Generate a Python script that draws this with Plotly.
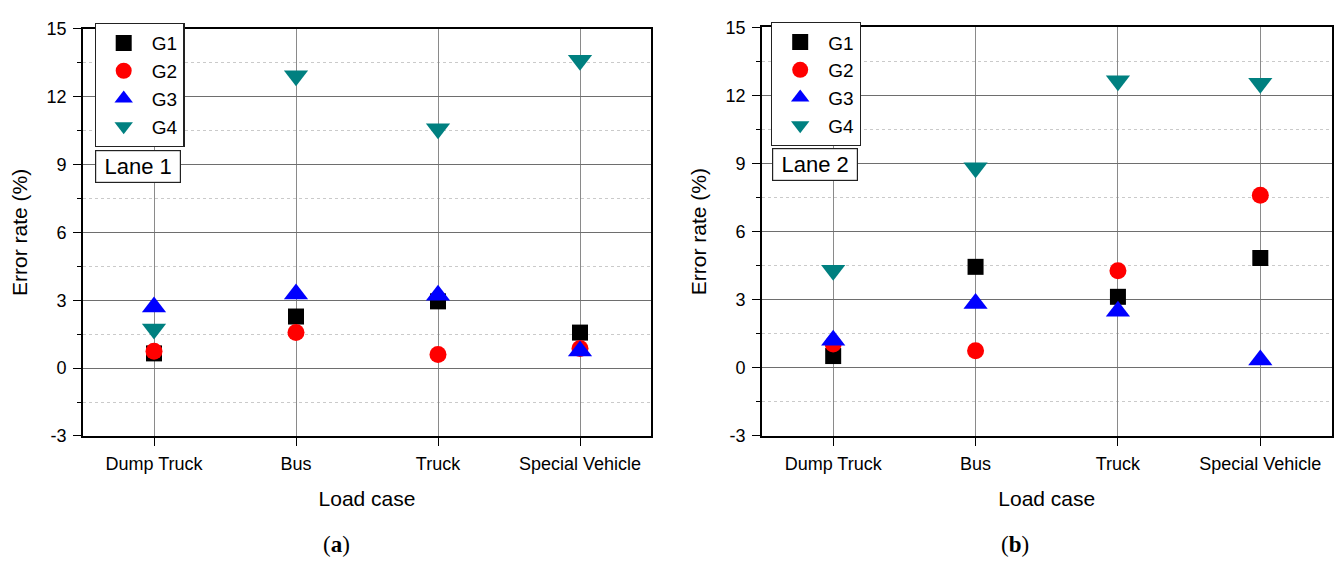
import plotly.graph_objects as go

# Load cases on the x axis
load_cases = ["Dump Truck", "Bus", "Truck", "Special Vehicle"]

# Error rate (%) of each gauge group, Lane 1
lane1_g1 = [0.65, 2.28, 2.95, 1.57]
lane1_g2 = [0.74, 1.57, 0.60, 0.87]
lane1_g3 = [2.70, 3.27, 3.22, 0.76]
lane1_g4 = [1.73, 12.92, 10.58, 13.61]

# Error rate (%) of each gauge group, Lane 2
lane2_g1 = [0.52, 4.45, 3.13, 4.84]
lane2_g2 = [1.05, 0.75, 4.28, 7.60]
lane2_g3 = [1.22, 2.84, 2.49, 0.35]
lane2_g4 = [4.30, 8.81, 12.65, 12.54]

group_names = ["G1", "G2", "G3", "G4"]
group_symbols = ["square", "circle", "triangle-up", "triangle-down"]
group_colors = ["#000000", "#ff0000", "#0000ff", "#008080"]
group_sizes = [16, 17, 21, 21]

y_ticks = [-3, 0, 3, 6, 9, 12, 15]

FONT = "Liberation Sans, Arial, sans-serif"
W, H = 1336, 561

fig = go.Figure()

panels = [
    ([lane1_g1, lane1_g2, lane1_g3, lane1_g4], "x", "y", "legend"),
    ([lane2_g1, lane2_g2, lane2_g3, lane2_g4], "x2", "y2", "legend2"),
]
for series, xa, ya, lg in panels:
    for name, vals, sym, col, sz in zip(group_names, series, group_symbols,
                                         group_colors, group_sizes):
        fig.add_trace(go.Scatter(
            x=load_cases, y=vals, mode="markers", name=name,
            xaxis=xa, yaxis=ya, legend=lg,
            marker=dict(symbol=sym, color=col, size=sz, line=dict(width=0)),
            cliponaxis=False,
        ))

def xaxis_style(domain):
    return dict(
        domain=domain, type="category", categoryorder="array",
        categoryarray=load_cases, range=[-0.5, 3.5],
        showline=True, linecolor="#000", linewidth=1.6, mirror=True,
        ticks="outside", ticklen=8, tickwidth=1.4, tickcolor="#000",
        ticklabelstandoff=3,
        showgrid=True, gridcolor="#8a8a8a", gridwidth=1.2,
        tickfont=dict(family=FONT, size=18, color="#000"),
        title=dict(text="Load case", font=dict(family=FONT, size=21, color="#000"),
                   standoff=18),
        zeroline=False, fixedrange=True,
    )

def yaxis_style(domain, anchor):
    return dict(
        domain=domain, anchor=anchor, range=[-3, 15],
        tickvals=y_ticks, ticktext=[str(v) for v in y_ticks],
        showline=True, linecolor="#000", linewidth=1.6, mirror=True,
        ticks="outside", ticklen=8, tickwidth=1.4, tickcolor="#000",
        ticklabelstandoff=3,
        showgrid=True, gridcolor="#6e6e6e", gridwidth=1.2,
        minor=dict(dtick=1.5, tick0=-3, ticks="outside", ticklen=4,
                   tickcolor="#000", tickwidth=1.2, showgrid=True,
                   gridcolor="#cacaca", griddash="dot", gridwidth=1),
        tickfont=dict(family=FONT, size=18, color="#000"),
        title=dict(text="Error rate (%)", font=dict(family=FONT, size=21, color="#000"),
                   standoff=13),
        zeroline=False, fixedrange=True,
    )

def px_x(p):
    return p / W

def px_y(p):
    return 1 - p / H

left_x = [px_x(83), px_x(651)]
right_x = [px_x(762), px_x(1331.5)]
left_y = [px_y(441.7), px_y(19.5)]
right_y = [px_y(441.7), px_y(18)]

def legend_style(x0, y0):
    return dict(
        x=px_x(x0), y=px_y(y0), xanchor="left", yanchor="top",
        bgcolor="#ffffff", bordercolor="#222", borderwidth=1.2,
        font=dict(family=FONT, size=19, color="#000"),
        itemwidth=46, tracegroupgap=0, itemsizing="trace",
    )

fig.update_layout(
    width=W, height=H,
    margin=dict(l=0, r=0, t=0, b=0),
    paper_bgcolor="#ffffff", plot_bgcolor="#ffffff",
    xaxis=dict(xaxis_style(left_x), anchor="y"),
    yaxis=yaxis_style(left_y, "x"),
    xaxis2=dict(xaxis_style(right_x), anchor="y2"),
    yaxis2=yaxis_style(right_y, "x2"),
    legend=legend_style(94.5, 13.5),
    legend2=legend_style(771, 12.5),
    showlegend=True,
)

# Lane labels inside each panel
for text, x0, yc in [("Lane 1", 94.5, 162), ("Lane 2", 772, 160)]:
    fig.add_annotation(
        text=text, xref="paper", yref="paper", x=px_x(x0), y=px_y(yc),
        xanchor="left", yanchor="middle", showarrow=False,
        width=84, height=31, borderpad=0, align="center",
        bordercolor="#222", borderwidth=1.2, bgcolor="#ffffff",
        font=dict(family=FONT, size=22, color="#000"),
    )

# Panel captions
for text, xc in [("(<b>a</b>)", 336), ("(<b>b</b>)", 1015)]:
    fig.add_annotation(
        text=text, xref="paper", yref="paper", x=px_x(xc), y=px_y(554),
        xanchor="center", yanchor="middle", showarrow=False,
        font=dict(family="Liberation Serif, DejaVu Serif, serif", size=23, color="#000"),
    )

fig.write_html("out.html")
